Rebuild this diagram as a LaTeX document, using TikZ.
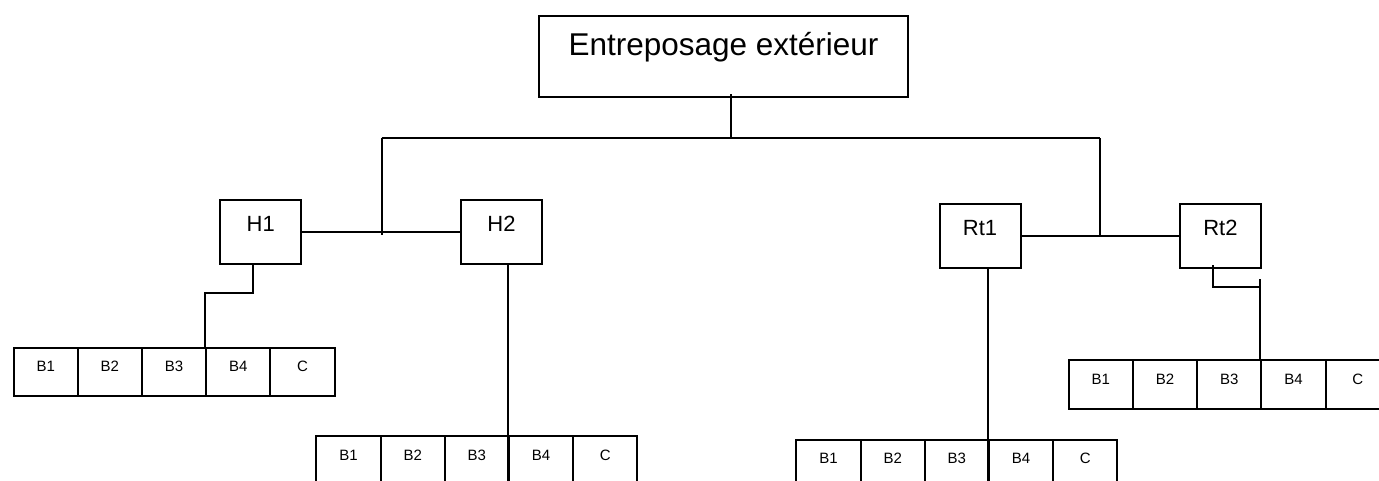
\documentclass[tikz,border=0pt]{standalone}
\usepackage{fontspec}
\setmainfont{Liberation Sans}
\begin{document}
\begin{tikzpicture}[x=1pt,y=-1pt,
  bigbox/.style={draw, line width=2pt, inner sep=0pt, minimum width=368.4pt,
    text height=39.3pt, text depth=41.4pt, font=\fontsize{31.5}{36}\selectfont},
  hbox/.style={draw, line width=2pt, inner sep=0pt, minimum width=81pt,
    text height=31.5pt, text depth=32.5pt, font=\fontsize{22}{26}\selectfont},
  cell/.style={draw, line width=2pt, inner sep=0pt, minimum width=64.2pt,
    text height=24pt, text depth=24.5pt, font=\fontsize{15}{18}\selectfont, anchor=north west},
  conn/.style={draw, line width=2pt}]
\useasboundingbox (0,0) rectangle (1379,481);
\fill[white] (0,0) rectangle (1379,481);
\clip (0,0) rectangle (1379,481);

% main box
\node[bigbox, anchor=north] (top) at (723.5,15) {Entreposage extérieur};

% second level
\node[hbox, anchor=north] (H1) at (260.7,199.3) {H1};
\node[hbox, anchor=north] (H2) at (501.5,199.3) {H2};
\node[hbox, anchor=north] (Rt1) at (980,202.7) {Rt1};
\node[hbox, anchor=north] (Rt2) at (1220.4,202.7) {Rt2};

% rows of cells
\foreach \lab [count=\i] in {B1,B2,B3,B4,C} {
  \node[cell] (ra-\i) at ({12.6+64.2*(\i-1)},346.7) {\lab};
  \node[cell] (rb-\i) at ({315.4+64.2*(\i-1)},435) {\lab};
  \node[cell] (rc-\i) at ({795.4+64.2*(\i-1)},438.7) {\lab};
  \node[cell] (rd-\i) at ({1067.8+64.2*(\i-1)},359) {\lab};
}

% junction coordinates
\coordinate (j0) at (731.3,138.3);
\coordinate (jl) at (381.5,138.3);
\coordinate (jr) at (1100,138.3);
\coordinate (jlb) at (381.5,235);
\coordinate (h1a) at (253.4,293);
\coordinate (h2a) at (508,481);
\coordinate (rt1a) at (988,481);
\coordinate (rt2a) at (1212.6,286.5);
\coordinate (rt2b) at (1260.4,279);

% connectors
\draw[conn] (top.south -| j0) ++(0,-3.5) -- (j0);
\draw[conn] (jl) -- (jr);
\draw[conn] (jl) -- (jlb);
\draw[conn] (H1.east) -- (H2.west);
\draw[conn] (jr) -- (jr |- Rt1.east);
\draw[conn] (Rt1.east) -- (Rt2.west);
\draw[conn] (H1.south -| h1a) -- (h1a) -| (ra-4.north west);
\draw[conn] (H2.south -| h2a) -- (h2a);
\draw[conn] (Rt1.south -| rt1a) -- (rt1a);
\draw[conn] (Rt2.south -| rt2a) ++(0,-3.5) -- (rt2a) -- (rt2a -| rt2b);
\draw[conn] (rt2b) -- (rd-4.north west);
\end{tikzpicture}
\end{document}
